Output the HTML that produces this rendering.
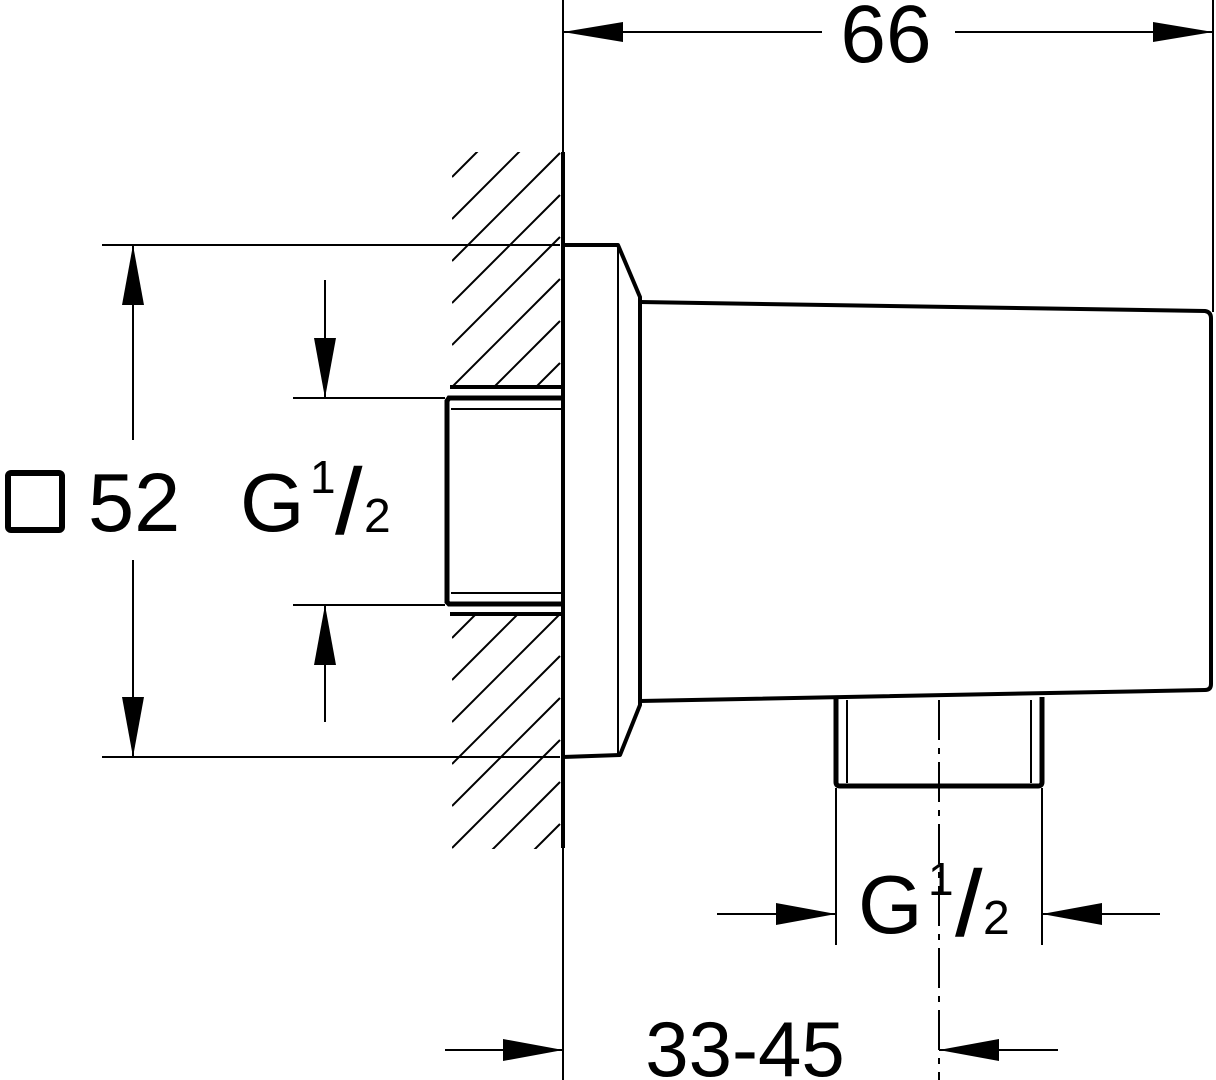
<!DOCTYPE html>
<html><head><meta charset="utf-8"><style>
html,body{margin:0;padding:0;background:#fff;}
svg{display:block;}
text{font-family:"Liberation Sans",Arial,sans-serif;fill:#000;}
</style></head><body>
<svg width="1216" height="1080" viewBox="0 0 1216 1080" xmlns="http://www.w3.org/2000/svg">
<defs>
<clipPath id="h1"><rect x="452" y="152" width="109" height="235"/></clipPath>
<clipPath id="h2"><rect x="452" y="615" width="109" height="234"/></clipPath>
</defs>
<g stroke="#000" fill="none" stroke-linecap="butt">
<g stroke-width="2" clip-path="url(#h1)">
<line x1="452" y1="93" x2="560" y2="-15"/><line x1="452" y1="135" x2="560" y2="27"/>
<line x1="452" y1="177" x2="560" y2="69"/><line x1="452" y1="219" x2="560" y2="111"/>
<line x1="452" y1="261" x2="560" y2="153"/><line x1="452" y1="303" x2="560" y2="195"/>
<line x1="452" y1="345" x2="560" y2="237"/><line x1="452" y1="387" x2="560" y2="279"/>
<line x1="452" y1="429" x2="560" y2="321"/><line x1="452" y1="471" x2="560" y2="363"/>
</g>
<g stroke-width="2" clip-path="url(#h2)">
<line x1="452" y1="596" x2="560" y2="488"/><line x1="452" y1="638" x2="560" y2="530"/>
<line x1="452" y1="680" x2="560" y2="572"/><line x1="452" y1="722" x2="560" y2="614"/>
<line x1="452" y1="764" x2="560" y2="656"/><line x1="452" y1="806" x2="560" y2="698"/>
<line x1="452" y1="848" x2="560" y2="740"/><line x1="452" y1="890" x2="560" y2="782"/>
<line x1="452" y1="932" x2="560" y2="824"/><line x1="452" y1="974" x2="560" y2="866"/>
</g>
<line x1="563" y1="0" x2="563" y2="152" stroke-width="2"/>
<line x1="563" y1="152" x2="563" y2="848" stroke-width="4"/>
<line x1="563" y1="848" x2="563" y2="1080" stroke-width="2"/>
<line x1="450" y1="387" x2="561" y2="387" stroke-width="4"/>
<line x1="450" y1="614" x2="561" y2="614" stroke-width="4"/>
<path d="M561 398 L449 398 L447 401 L447 602 L449 604 L561 604" stroke-width="5"/>
<line x1="451" y1="409" x2="561" y2="409" stroke-width="2"/>
<line x1="451" y1="593" x2="561" y2="593" stroke-width="2"/>
<path d="M563 245 L618 245 L640 297 L640 705 L620 755 L563 757" stroke-width="4" stroke-linejoin="round"/>
<line x1="618" y1="246" x2="618" y2="755" stroke-width="2"/>
<path d="M640 302 L1205 311 Q1211 312 1211 318 L1211 684 Q1211 690 1205 690 L640 701" stroke-width="4"/>
<line x1="1213" y1="0" x2="1213" y2="312" stroke-width="2"/>
<path d="M836 699 L836 782 Q836 786 840 786 L1038 786 Q1042 786 1042 782 L1042 697" stroke-width="5"/>
<line x1="836" y1="788" x2="836" y2="945" stroke-width="2"/>
<line x1="1042" y1="788" x2="1042" y2="945" stroke-width="2"/>
<line x1="847" y1="700" x2="847" y2="783" stroke-width="2"/>
<line x1="1031" y1="700" x2="1031" y2="783" stroke-width="2"/>
<line x1="939" y1="700" x2="939" y2="1080" stroke-width="2" stroke-dasharray="40 8 6 8"/>
<line x1="563" y1="32" x2="822" y2="32" stroke-width="2"/>
<line x1="955" y1="32" x2="1213" y2="32" stroke-width="2"/>
<line x1="102" y1="245" x2="560" y2="245" stroke-width="2"/>
<line x1="102" y1="757" x2="560" y2="757" stroke-width="2"/>
<line x1="133" y1="245" x2="133" y2="440" stroke-width="2"/>
<line x1="133" y1="560" x2="133" y2="757" stroke-width="2"/>
<line x1="293" y1="398" x2="445" y2="398" stroke-width="2"/>
<line x1="293" y1="605" x2="445" y2="605" stroke-width="2"/>
<line x1="325" y1="280" x2="325" y2="398" stroke-width="2"/>
<line x1="325" y1="605" x2="325" y2="722" stroke-width="2"/>
<line x1="717" y1="914" x2="836" y2="914" stroke-width="2"/>
<line x1="1042" y1="914" x2="1160" y2="914" stroke-width="2"/>
<line x1="445" y1="1050" x2="563" y2="1050" stroke-width="2"/>
<line x1="939" y1="1050" x2="1058" y2="1050" stroke-width="2"/>
<rect x="8" y="473" width="54" height="57" rx="3" stroke-width="6"/>
</g>
<g fill="#000">
<polygon points="563,32 623,22 623,42"/>
<polygon points="1213,32 1153,22 1153,42"/>
<polygon points="133,245 122,305 144,305"/>
<polygon points="133,757 122,697 144,697"/>
<polygon points="325,398 314,338 336,338"/>
<polygon points="325,605 314,665 336,665"/>
<polygon points="836,914 776,903 776,925"/>
<polygon points="1042,914 1102,903 1102,925"/>
<polygon points="563,1050 503,1039 503,1061"/>
<polygon points="939,1050 999,1039 999,1061"/>
</g>
<text x="886" y="62" font-size="82" text-anchor="middle">66</text>
<text x="88" y="531" font-size="83">52</text>
<text x="240" y="531" font-size="83">G</text>
<text x="310" y="493" font-size="46">1</text>
<text x="336" y="533" font-size="92" stroke="#000" stroke-width="1.5">/</text>
<text x="364" y="532" font-size="48">2</text>
<text x="858" y="933" font-size="83">G</text>
<text x="928" y="895" font-size="46">1</text>
<text x="956" y="935" font-size="92" stroke="#000" stroke-width="1.5">/</text>
<text x="983" y="934" font-size="48">2</text>
<text x="745" y="1076" font-size="78" text-anchor="middle">33-45</text>
</svg>
</body></html>
